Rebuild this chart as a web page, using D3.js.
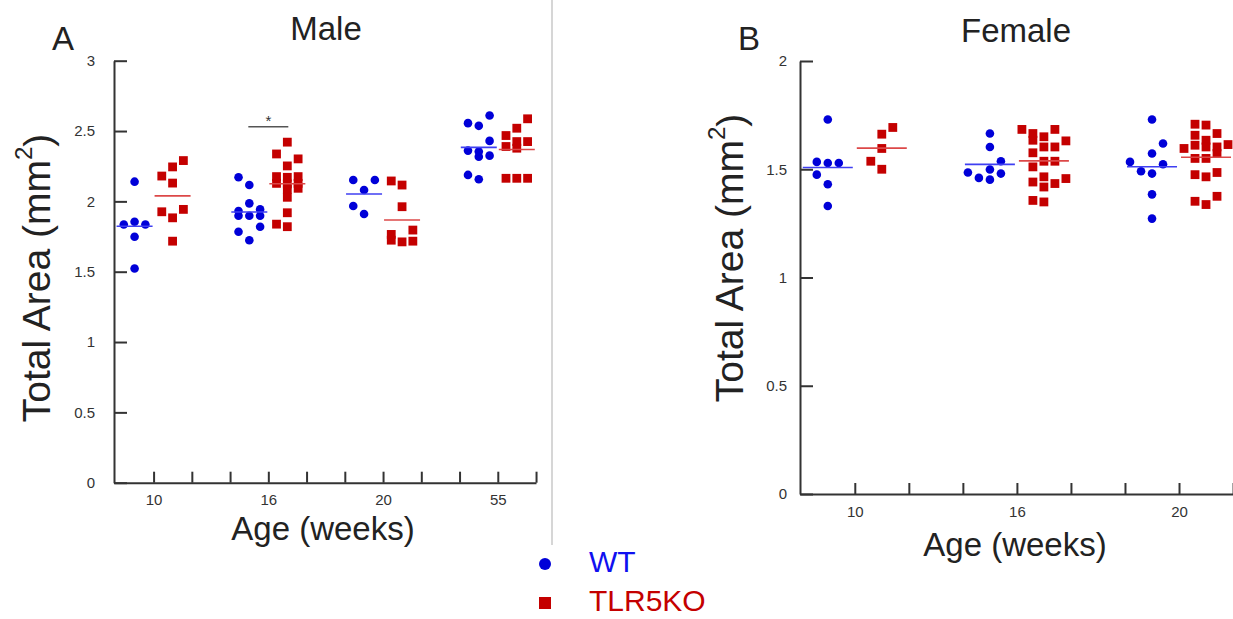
<!DOCTYPE html>
<html>
<head>
<meta charset="utf-8">
<script src="https://cdn.jsdelivr.net/npm/d3@7"></script>
<style>
  body { margin: 0; background: #fff; }
  svg { display: block; font-family: "Liberation Sans", Arial, sans-serif; }
</style>
</head>
<body>
<svg width="1233" height="619"></svg>
<script>
(function (d3) {
  'use strict';

  // ---- data ----
  const maleAges = ['10', '16', '20', '55'];
  const femaleAges = ['10', '16', '20'];

  const maleWT = [
    [2.14, 1.836, 1.855, 1.836, 1.748, 1.523],
    [2.171, 2.116, 1.986, 1.931, 1.943, 1.898, 1.898, 1.898, 1.82, 1.784, 1.724],
    [2.152, 2.152, 2.081, 1.967, 1.91],
    [2.61, 2.556, 2.537, 2.43, 2.361, 2.354, 2.318, 2.325, 2.188, 2.157]
  ];
  const maleWTSlot = [
    [0, -1, 0, 1, 0, 0],
    [-1, 0, 0, -1, 1, -1, 0, 1, 1, -1, 0],
    [-1, 1, 0, -1, 0],
    [1, -1, 0, 1, -1, 0, 0, 1, -1, 0]
  ];
  const maleKO = [
    [2.29, 2.245, 2.18, 2.13, 1.926, 1.943, 1.883, 1.717],
    [2.421, 2.337, 2.302, 2.252, 2.176, 2.128, 2.171, 2.124, 2.086, 2.176, 2.128, 2.093, 2.029, 1.919, 1.838, 1.82],
    [2.145, 2.116, 1.962, 1.765, 1.724, 1.712, 1.796, 1.717],
    [2.587, 2.52, 2.468, 2.39, 2.425, 2.378, 2.425, 2.164, 2.164, 2.164]
  ];
  const maleKOSlot = [
    [1, 0, -1, 0, -1, 1, 0, 0],
    [0, -1, 1, 0, -1, -1, 0, 0, 0, 1, 1, 1, 0, 0, -1, 0],
    [-1, 0, 0, -1, -1, 0, 1, 1],
    [1, 0, -1, -1, 0, 0, 1, -1, 0, 1]
  ];

  const femaleWT = [
    [1.73, 1.534, 1.529, 1.529, 1.475, 1.431, 1.33],
    [1.665, 1.603, 1.537, 1.499, 1.485, 1.48, 1.46, 1.452],
    [1.73, 1.619, 1.573, 1.534, 1.523, 1.491, 1.48, 1.384, 1.272]
  ];
  const femaleWTSlot = [
    [0, -1, 0, 1, -1, 0, 0],
    [0, 0, 1, 0, -2, 1, -1, 0],
    [0, 1, 0, -2, 1, -1, 0, 0, 0]
  ];
  const femaleKO = [
    [1.693, 1.662, 1.596, 1.537, 1.5],
    [1.684, 1.665, 1.634, 1.684, 1.65, 1.631, 1.603, 1.603, 1.576, 1.511, 1.537, 1.537, 1.441, 1.465, 1.418, 1.434, 1.457, 1.356, 1.349],
    [1.708, 1.704, 1.657, 1.665, 1.634, 1.603, 1.611, 1.596, 1.603, 1.573, 1.614, 1.55, 1.55, 1.475, 1.465, 1.485, 1.352, 1.337, 1.375]
  ];
  const femaleKOSlot = [
    [1, 0, 0, -1, 0],
    [-2, -1, -1, 1, 0, 2, 0, 1, -1, -1, 0, 1, -1, 0, 0, 1, 2, -1, 0],
    [-1, 0, -1, 1, 0, 0, -1, -2, 1, 1, 2, -1, 0, -1, 0, 1, -1, 0, 1]
  ];

  const maleTicks = [0, 0.5, 1, 1.5, 2, 2.5, 3];
  const femaleTicks = [0, 0.5, 1, 1.5, 2];

  const blue = '#0000d8';
  const red = '#c40000';
  const axisColor = '#333';

  const svg = d3.select('svg');

  function panel(opt) {
    const g = svg.append('g');
    const x = d3.scaleLinear().domain(opt.xDomain).range(opt.xRange);
    const y = d3.scaleLinear().domain(opt.yDomain).range(opt.yRange);

    // y axis, ticks pointing inward
    const yAx = g.append('g')
      .attr('transform', `translate(${opt.xRange[0]},0)`)
      .call(d3.axisLeft(y).tickValues(opt.yTicks).tickSizeInner(-13)
        .tickSizeOuter(0).tickPadding(opt.yPad).tickFormat(d => d));

    // x axis, minor ticks every third of a group, labels only on group ticks
    const xTickVals = d3.range(0, opt.nTicks).map(k => k / 3);
    const xAx = g.append('g')
      .attr('transform', `translate(0,${opt.yRange[0]})`)
      .call(d3.axisBottom(x).tickValues(xTickVals).tickSizeInner(-11)
        .tickSizeOuter(0).tickPadding(12)
        .tickFormat((d, i) => (i % 3 === 0 ? opt.ages[i / 3] : '')));
    xAx.selectAll('.tick text').filter(function () { return this.textContent === ''; }).remove();

    [yAx, xAx].forEach(a => {
      a.select('.domain').attr('stroke', axisColor).attr('stroke-width', 2);
      a.selectAll('.tick line').attr('stroke', axisColor).attr('stroke-width', 2);
      a.selectAll('.tick text').attr('fill', axisColor)
        .style('font-family', '"Liberation Sans", Arial, sans-serif')
        .style('font-size', '15px');
    });

    const series = [
      { vals: opt.wt, slots: opt.wtSlot, off: -opt.off, color: blue, shape: 'circle', line: '#3f3ff2' },
      { vals: opt.ko, slots: opt.koSlot, off: opt.off, color: red, shape: 'square', line: '#dc4848' }
    ];

    series.forEach(s => {
      s.vals.forEach((vals, gi) => {
        const cx = x(gi) + s.off;
        const pts = vals.map((v, i) => ({ v: v, slot: s.slots[gi][i] }));
        if (s.shape === 'circle') {
          g.selectAll(null).data(pts).enter().append('circle')
            .attr('cx', d => cx + d.slot * opt.slotW)
            .attr('cy', d => y(d.v))
            .attr('r', 4.3)
            .attr('fill', s.color);
        } else {
          g.selectAll(null).data(pts).enter().append('rect')
            .attr('x', d => cx + d.slot * opt.slotW - 4.4)
            .attr('y', d => y(d.v) - 4.4)
            .attr('width', 8.8).attr('height', 8.8)
            .attr('fill', s.color);
        }
        const m = d3.mean(vals);
        g.append('line')
          .attr('x1', cx - opt.meanW / 2).attr('x2', cx + opt.meanW / 2)
          .attr('y1', y(m)).attr('y2', y(m))
          .attr('stroke', s.line).attr('stroke-width', 1.6);
      });
    });

    // titles and labels
    g.append('text').attr('x', opt.titleX).attr('y', opt.titleY)
      .attr('text-anchor', 'middle').style('font-size', '33px').attr('fill', '#222')
      .text(opt.title);
    g.append('text').attr('x', opt.letterX).attr('y', 50)
      .style('font-size', '33px').attr('fill', '#222').text(opt.letter);
    g.append('text').attr('x', opt.xLabX).attr('y', opt.xLabY)
      .attr('text-anchor', 'middle').style('font-size', '33px').attr('fill', '#222')
      .text('Age (weeks)');
    const yl = g.append('text')
      .attr('transform', `translate(${opt.yLabX},${opt.yLabY}) rotate(-90)`)
      .attr('text-anchor', 'middle').style('font-size', '39px').attr('fill', '#222');
    yl.append('tspan').text('Total Area (mm');
    yl.append('tspan').attr('dy', '-0.75em').style('font-size', '24px').text('2');
    yl.append('tspan').attr('dy', '0.48em').text(')');

    return { x: x, y: y, g: g };
  }

  const male = panel({
    xDomain: [-0.345, 3.333], xRange: [114, 536],
    yDomain: [0, 3], yRange: [482.7, 60.7],
    yTicks: maleTicks, yPad: 19, nTicks: 11, ages: maleAges,
    wt: maleWT, wtSlot: maleWTSlot, ko: maleKO, koSlot: maleKOSlot,
    off: 19, slotW: 10.8, meanW: 36,
    title: 'Male', titleX: 326, titleY: 40, letter: 'A', letterX: 52,
    xLabX: 323, xLabY: 540, yLabX: 50, yLabY: 278
  });

  panel({
    xDomain: [-0.338, 2.333], xRange: [800, 1233],
    yDomain: [0, 2], yRange: [494, 61],
    yTicks: femaleTicks, yPad: 13, nTicks: 8, ages: femaleAges,
    wt: femaleWT, wtSlot: femaleWTSlot, ko: femaleKO, koSlot: femaleKOSlot,
    off: 27, slotW: 11, meanW: 50,
    title: 'Female', titleX: 1016, titleY: 42, letter: 'B', letterX: 738,
    xLabX: 1015, xLabY: 556, yLabX: 743, yLabY: 258
  });

  // significance marker, male 16 weeks
  const sigY = male.y(2.53);
  male.g.append('line')
    .attr('x1', male.x(1) - 20).attr('x2', male.x(1) + 20)
    .attr('y1', sigY).attr('y2', sigY)
    .attr('stroke', '#555').attr('stroke-width', 1.5);
  male.g.append('text').attr('x', male.x(1)).attr('y', sigY - 1)
    .attr('text-anchor', 'middle').style('font-size', '15px').attr('fill', '#333')
    .text('*');

  // divider between panels
  svg.append('line').attr('x1', 552).attr('x2', 552).attr('y1', 0).attr('y2', 545)
    .attr('stroke', '#c8c8c8').attr('stroke-width', 1.5);

  // legend
  const legend = svg.append('g');
  legend.append('circle').attr('cx', 545).attr('cy', 564).attr('r', 6).attr('fill', blue);
  legend.append('rect').attr('x', 539).attr('y', 597).attr('width', 12).attr('height', 12).attr('fill', red);
  legend.append('text').attr('x', 589).attr('y', 572).style('font-size', '30px')
    .attr('fill', '#1010f0').text('WT');
  legend.append('text').attr('x', 589).attr('y', 611).style('font-size', '30px')
    .attr('fill', red).text('TLR5KO');

}(d3));
</script>
</body>
</html>
